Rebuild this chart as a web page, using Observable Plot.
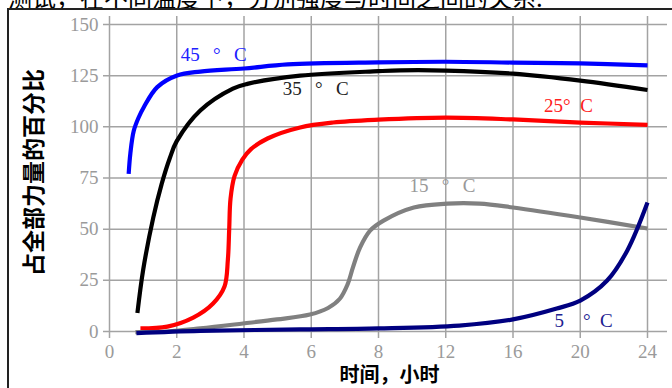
<!DOCTYPE html>
<html><head><meta charset="utf-8">
<script src="https://cdn.jsdelivr.net/npm/d3@7"></script>
<script src="https://cdn.jsdelivr.net/npm/@observablehq/plot@0.6"></script>
<style>
body{margin:0;background:#fff;}
#title{height:8px;overflow:hidden;font-family:"Noto Sans CJK SC";font-size:24px;line-height:24px;white-space:nowrap;color:#000;}
#title span{display:block;margin-top:-15px;padding-left:8px;}
#chart{margin-left:7px;border-left:2px solid #222;border-top:2px solid #222;width:663px;height:378px;overflow:hidden;}
</style></head>
<body>
<div id="title"><span id="titleText"></span></div>
<div id="chart"></div>
<script>
const titleText = "测试，在不同温度下，分别强度与时间之间的关系.";
const xLabel = "时间，小时";
const yLabel = "占全部力量的百分比";
const xTicks = [0, 2, 4, 6, 8, 12, 16, 20, 24];
const yTicks = [0, 25, 50, 75, 100, 125, 150];

const hours45 = [0.57, 0.62, 0.72, 0.87, 1.02, 1.42, 2.01, 2.7, 4.0, 5.3, 8, 12, 16, 20, 24];
const pct45   = [77, 87, 98, 104.7, 109.6, 119.4, 125.1, 127, 128.5, 130.5, 131.5, 131.8, 131.4, 131, 130];

const hours35 = [0.83, 1.0, 1.3, 1.55, 1.8, 2.0, 2.7, 3.67, 4.1, 5.67, 8, 9.3, 12, 16, 20, 24];
const pct35   = [9, 30, 55.5, 72, 85, 93, 108, 118.7, 121, 125, 127.2, 127.6, 127.5, 126, 122.6, 118];

const hours25 = [0.92, 1.72, 2.49, 3.08, 3.42, 3.52, 3.56, 3.6, 3.72, 3.95, 4.2, 4.7, 5.67, 6.65, 8, 12, 16, 20, 24];
const pct25   = [1.5, 2.4, 6.8, 13.7, 22, 35, 50, 65, 76, 84, 89, 94.3, 99.7, 102.1, 103.5, 104.5, 103.6, 102.1, 101];

const hours15 = [0.77, 1.72, 2.7, 3.97, 4.98, 5.96, 6.5, 6.85, 7.08, 7.24, 7.45, 7.75, 8.3, 10.1, 12.1, 14, 16, 20, 24];
const pct15   = [-0.3, 0, 1.5, 3.9, 5.9, 8.3, 11.5, 16, 23, 31.3, 41, 49.3, 54.2, 60.6, 62.5, 62.5, 60.6, 55.7, 50.3];

const hours5 = [0.8, 2.7, 5.67, 8, 12.8, 16, 18.6, 20, 21.6, 22.8, 24];
const pct5   = [-0.8, 0.3, 1, 1.5, 2.9, 5.9, 11.2, 15.1, 24.9, 39.6, 63];

const seriesNames  = ["45\u2002\u2009°\u2002\u2009C", "35\u2002\u2009°\u2002\u2009C", "25°\u2002C", "15\u2002\u2009°\u2002\u2009C", "5\u2003°\u2002C"];
const seriesColors = ["#0000ff", "#000000", "#ff0000", "#808080", "#000080"];
const labelColors  = ["#2020ff", "#222222", "#ff2020", "#999999", "#202090"];
const labelHours   = [3.1, 6.13, 19.3, 11.8, 20.2];
const labelPct     = [134.9, 118.7, 110.4, 71.3, 5.4];

const seriesHours = [hours45, hours35, hours25, hours15, hours5];
const seriesPct   = [pct45, pct35, pct25, pct15, pct5];

document.getElementById("titleText").textContent = titleText;

const serif = "Liberation Serif, DejaVu Serif, serif";
const cjk = "Noto Sans CJK SC";

const lineMarks = seriesHours.map((hs, i) =>
  Plot.line(hs.map((h, j) => ({h, p: seriesPct[i][j]})), {
    x: "h", y: "p", stroke: seriesColors[i], strokeWidth: 4.2,
    curve: "catmull-rom", strokeLinecap: "butt", strokeLinejoin: "round"
  })
);

const labels = seriesNames.map((n, i) => ({n, h: labelHours[i], p: labelPct[i], c: labelColors[i]}));

const chart = Plot.plot({
  width: 663,
  height: 378,
  marginLeft: 94,
  marginRight: 5,
  marginTop: 6,
  marginBottom: 50,
  style: {fontFamily: serif, background: "#fff", overflow: "visible"},
  x: {type: "linear", domain: [0, 8, 24], range: [100, 369, 638]},
  y: {domain: [0, 150], range: [321, 14]},
  marks: [
    Plot.ruleY(yTicks, {stroke: "#a3a3a3", strokeWidth: 1.5}),
    Plot.ruleX(xTicks, {stroke: "#a3a3a3", strokeWidth: 1.5}),
    Plot.axisY(yTicks, {tickSize: 0, tickPadding: 5, fontSize: 19, color: "#9a9a9a", fontFamily: serif, label: null}),
    Plot.axisX(xTicks, {tickSize: 0, tickPadding: 6, fontSize: 19, color: "#9a9a9a", fontFamily: serif, label: null}),
    ...lineMarks,
    Plot.text(labels, {x: "h", y: "p", text: "n", fill: "c", fontSize: 19, fontFamily: serif}),
    Plot.text([yLabel], {frameAnchor: "left", textAnchor: "middle", lineAnchor: "middle", rotate: -90, dx: -69, dy: -5, fontSize: 23, fontFamily: cjk, fontWeight: "bold", fill: "#000"}),
    Plot.text([xLabel], {frameAnchor: "bottom", textAnchor: "middle", lineAnchor: "middle", dx: 4, dy: 37, fontSize: 20, fontFamily: cjk, fontWeight: "bold", fill: "#000"})
  ]
});
document.getElementById("chart").appendChild(chart);
</script>
</body></html>
